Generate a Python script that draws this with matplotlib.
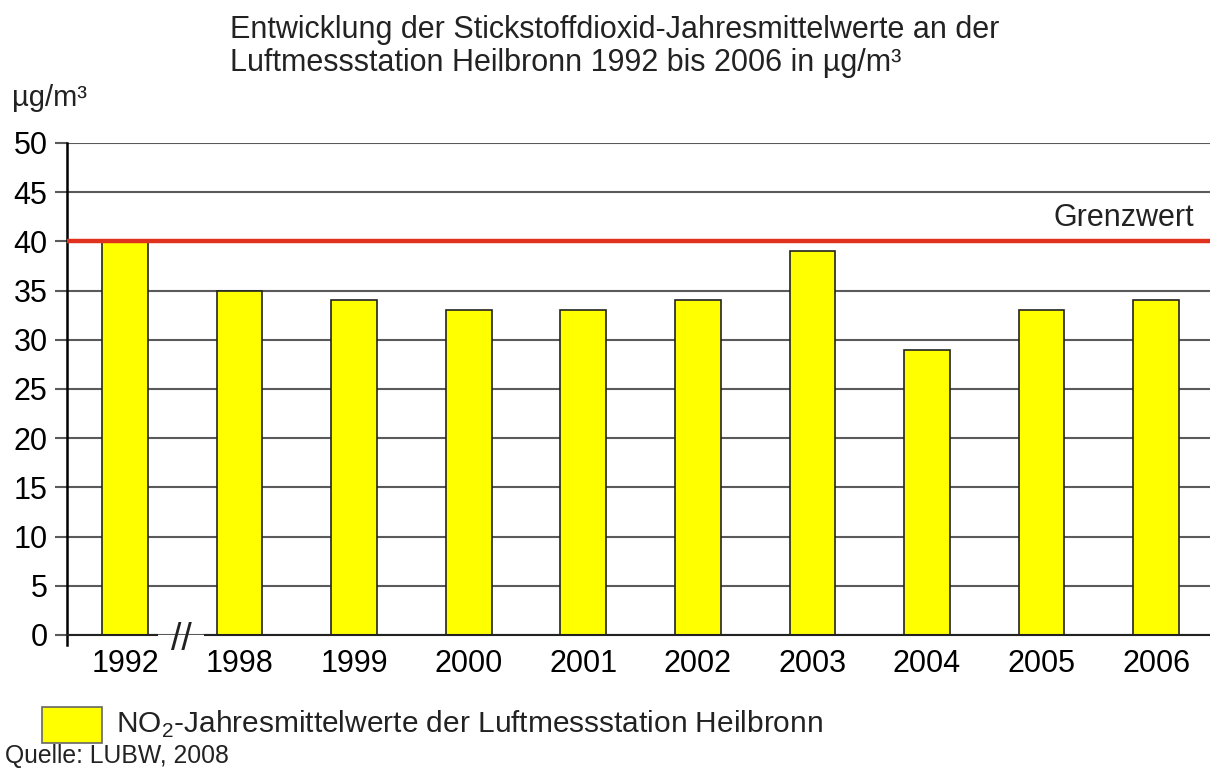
import matplotlib
matplotlib.use('Agg')
import numpy as np
from matplotlib import pyplot as plt
from matplotlib.patches import Rectangle
from matplotlib.lines import Line2D

plt.rcParams['font.family'] = ['Liberation Sans', 'DejaVu Sans']
plt.rcParams['mathtext.fontset'] = 'custom'
plt.rcParams['mathtext.rm'] = 'Liberation Sans'

# data
years = ['1992', '1998', '1999', '2000', '2001', '2002', '2003', '2004', '2005', '2006']
no2 = [40, 35, 34, 33, 33, 34, 39, 29, 33, 34]
grenzwert = 40

fig = plt.figure(figsize=(12.1, 7.71), dpi=100)
ax = fig.add_axes([67 / 1210, 1 - 635 / 771, 1 - 67 / 1210, (635 - 143) / 771])

x = np.arange(len(years))
ax.bar(x, no2, width=0.40, color='#ffff00', edgecolor='#222222', linewidth=1.2, zorder=3)

ax.set_xlim(-0.506, 9.47)
ax.set_ylim(0, 50)
ax.set_yticks(range(0, 51, 5))
ax.grid(axis='y', color='#5a5a5a', linewidth=1.5, zorder=0)
ax.tick_params(axis='y', length=9, width=1.5, color='#5a5a5a', labelsize=22, pad=5)
ax.set_xticks(x)
ax.set_xticklabels(years)
ax.tick_params(axis='x', length=0, labelsize=22, pad=10)
for s in ['top', 'right', 'bottom', 'left']:
    ax.spines[s].set_visible(False)

# left axis line, reaching a little below zero
ax.add_line(Line2D([0, 0], [-0.02, 1], transform=ax.transAxes, color='black',
                   linewidth=1.8, clip_on=False, zorder=4))
# broken baseline
ax.plot([-0.506, 0.28], [0, 0], color='#222222', linewidth=1.5, clip_on=False, zorder=4)
ax.plot([0.70, 9.47], [0, 0], color='#222222', linewidth=1.5, clip_on=False, zorder=4)
ax.text(0.49, -0.5, '//', ha='center', va='center', fontsize=27, color='#222222')

# limit value
ax.axhline(grenzwert, color='#e0301e', linewidth=3.2, zorder=5)
ax.text(9.33, grenzwert + 0.9, 'Grenzwert', ha='right', va='bottom', fontsize=22, color='#222222')

fig.text(230 / 1210, 1 - 30 / 771, 'Entwicklung der Stickstoffdioxid-Jahresmittelwerte an der',
         ha='left', va='center', fontsize=22, color='#222222')
fig.text(230 / 1210, 1 - 63 / 771, 'Luftmessstation Heilbronn 1992 bis 2006 in µg/m³',
         ha='left', va='center', fontsize=22, color='#222222')
fig.text(12 / 1210, 1 - 98 / 771, 'µg/m³', ha='left', va='center', fontsize=21, color='#222222')

# legend
fig.patches.append(Rectangle((42 / 1210, 1 - 743 / 771), 60 / 1210, 36 / 771,
                             transform=fig.transFigure, facecolor='#ffff00',
                             edgecolor='#666666', linewidth=1.2))
fig.text(116 / 1210, 1 - 724 / 771, r'NO$_\mathregular{2}$-Jahresmittelwerte der Luftmessstation Heilbronn',
         ha='left', va='center', fontsize=21.5, color='#222222')
fig.text(5 / 1210, 1 - 756 / 771, 'Quelle: LUBW, 2008', ha='left', va='center', fontsize=17.8, color='#222222')

fig.savefig('out.png', dpi=100)
